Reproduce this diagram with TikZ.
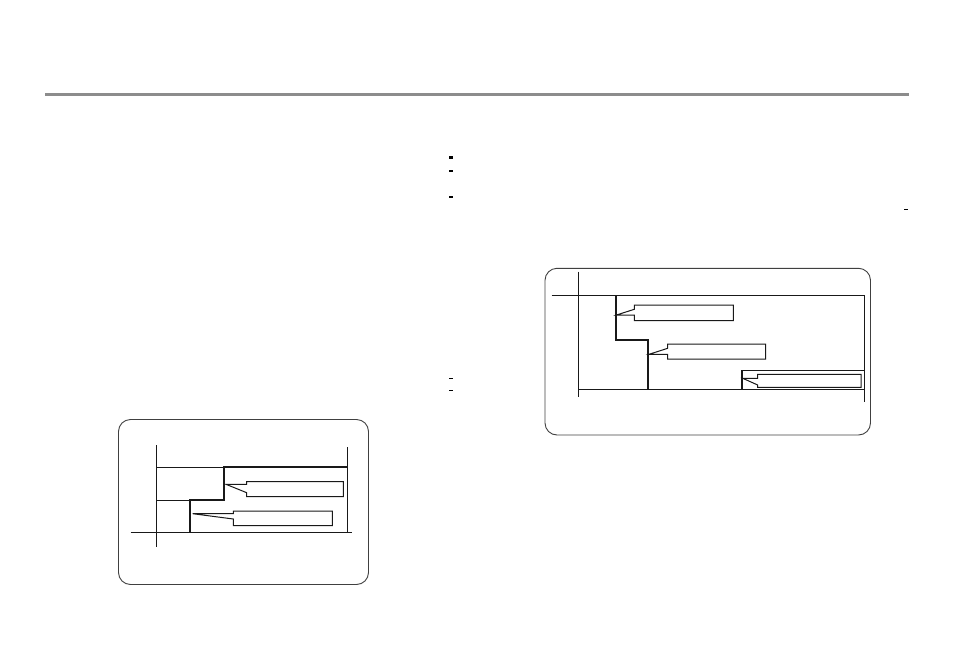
\documentclass[tikz,border=0pt]{standalone}
\begin{document}
\begin{tikzpicture}[x=1pt,y=-1pt,
  thin line/.style={line width=0.8pt,draw=black!90},
  thick line/.style={line width=1.8pt,draw=black!90},
  panel/.style={line width=0.9pt,draw=black!75,rounded corners=12pt},
  callout/.style={line width=1pt,draw=black!90,fill=white},
  dash mark/.style={line width=2.2pt,draw=black},
  small mark/.style={line width=1.2pt,draw=black}]
\useasboundingbox (0,0) rectangle (954,659);
% top rule
\draw[line width=3pt,draw=black!45] (45,94) -- (909,94);
% small marks
\foreach \yy in {157.5,170.7,197} \draw[dash mark] (449,\yy) -- (452.7,\yy);
\foreach \yy in {378.3,390.7} \draw[small mark] (449,\yy) -- (452.5,\yy);
\draw[small mark] (904,209.3) -- (907.5,209.3);

% ---------- left panel ----------
\draw[panel] (118.5,419.5) rectangle (368.5,584.5);
\draw[thin line] (156.7,445) -- (156.7,547);
\draw[thin line] (130.7,532.3) -- (351.7,532.3);
\draw[thin line] (347.3,447.3) -- (347.3,532.3);
\draw[thin line] (156.7,467.3) -- (224.3,467.3);
\draw[thin line] (156.7,500) -- (190,500);
\draw[thick line] (347.3,467.3) -- (224.3,467.3) -- (224.3,500) -- (190,500) -- (190,532.3);
% callouts
\draw[callout] (226,484.3) -- (246.7,484.3) -- (246.7,481.7) -- (343.3,481.7) -- (343.3,496.7) -- (246.7,496.7) -- (246.7,492.7) -- cycle;
\draw[callout] (192.7,513.7) -- (233.3,513.7) -- (233.3,511) -- (332.3,511) -- (332.3,525.7) -- (233.3,525.7) -- (233.3,519) -- cycle;

% ---------- right panel ----------
\draw[panel] (545,268.3) rectangle (870.5,435);
\draw[thin line] (578.3,271.7) -- (578.3,397.3);
\draw[thin line] (551.7,295) -- (864.3,295);
\draw[thin line] (864.3,295) -- (864.3,401.7);
\draw[thin line] (578.3,389) -- (864.3,389);
\draw[thick line,line width=1.5pt] (616,295) -- (616,340) -- (648,340) -- (648,389);
\draw[thick line,line width=1.5pt] (742,389.3) -- (742,370);
\draw[thin line] (742,370) -- (864.3,370);
% callouts
\draw[callout] (616.5,315) -- (634.3,309.3) -- (634.3,305) -- (733.3,305) -- (733.3,320.7) -- (634.3,320.7) -- (634.3,315) -- cycle;
\draw[callout] (649,354.3) -- (667.7,348.3) -- (667.7,344) -- (765.7,344) -- (765.7,359) -- (667.7,359) -- (667.7,354.3) -- cycle;
\draw[callout] (742.7,378.3) -- (757.7,378.3) -- (757.7,374.3) -- (861,374.3) -- (861,387.3) -- (757.7,387.3) -- (757.7,385) -- cycle;
\end{tikzpicture}
\end{document}
